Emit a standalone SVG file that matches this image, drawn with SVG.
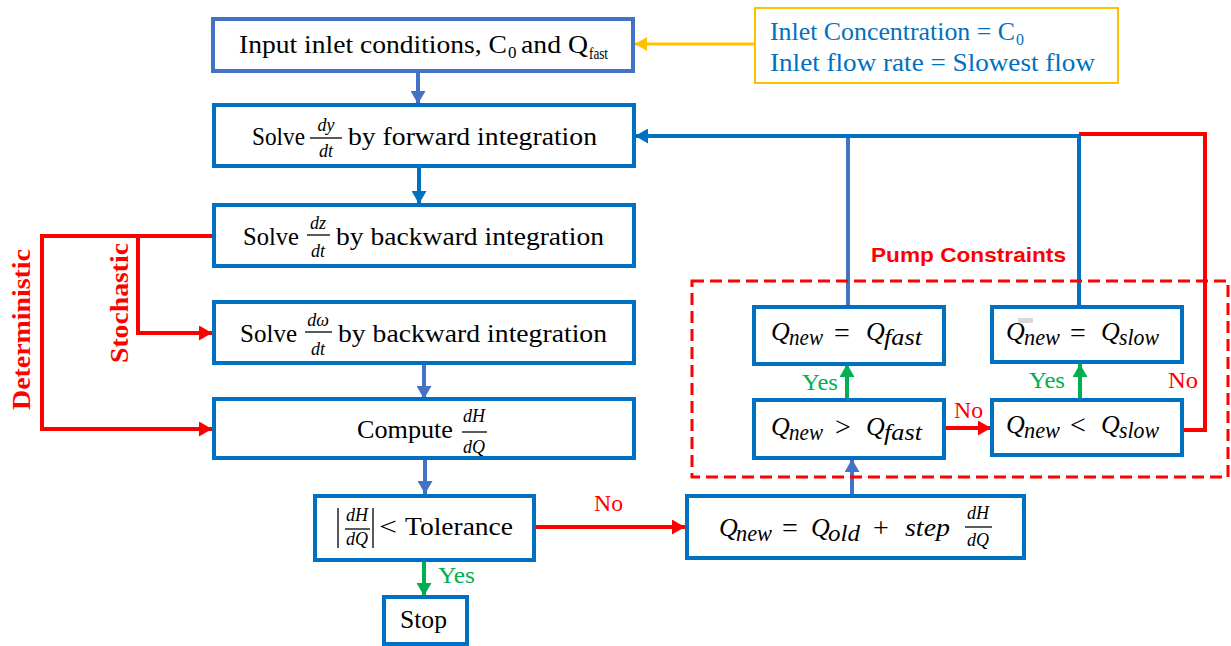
<svg xmlns="http://www.w3.org/2000/svg" width="1231" height="646" viewBox="0 0 1231 646">
<style>
.box{fill:#fff;stroke:#0070C0;stroke-width:4}
.box1{fill:#fff;stroke:#4472C4;stroke-width:4}
.t{font-family:"Liberation Serif",serif;font-size:26px;fill:#000}
.sub{font-family:"Liberation Serif",serif;font-size:17px;fill:#000}
.fr{font-family:"Liberation Serif",serif;font-size:18px;font-style:italic;fill:#000;text-anchor:middle}
.m{font-family:"Liberation Serif",serif;font-size:26px;font-style:italic;fill:#000}
.ms{font-family:"Liberation Serif",serif;font-size:23px;font-style:italic;fill:#000}
.op{font-family:"Liberation Serif",serif;font-size:28px;fill:#000;text-anchor:middle}
.info{font-family:"Liberation Serif",serif;font-size:25px;fill:#0070C0}
.infosub{font-family:"Liberation Serif",serif;font-size:16px;fill:#0070C0}
.lbl{font-family:"Liberation Serif",serif;font-weight:bold;font-size:26px;fill:#FF0000}
.pc{font-family:"Liberation Sans",sans-serif;font-weight:bold;font-size:21px;fill:#FF0000}
.yes{font-family:"Liberation Serif",serif;font-size:24px;fill:#00B050}
.no{font-family:"Liberation Serif",serif;font-size:24px;fill:#FF0000}
.fl{stroke:#000;stroke-width:1.3}
.cb{fill:none;stroke:#0070C0;stroke-width:4}
.cl{fill:none;stroke:#4472C4;stroke-width:4}
.cr{fill:none;stroke:#FF0000;stroke-width:4}
.cg{fill:none;stroke:#00B050;stroke-width:4}
.co{fill:none;stroke:#FFC000;stroke-width:3}
</style>
<defs>
<marker id="ab" viewBox="0 0 13 15" refX="13" refY="7.5" markerWidth="3.25" markerHeight="3.75" orient="auto"><path d="M0,0L13,7.5L0,15z" fill="#0070C0"/></marker>
<marker id="al" viewBox="0 0 13 15" refX="13" refY="7.5" markerWidth="3.25" markerHeight="3.75" orient="auto"><path d="M0,0L13,7.5L0,15z" fill="#4472C4"/></marker>
<marker id="ar" viewBox="0 0 13 15" refX="13" refY="7.5" markerWidth="3.25" markerHeight="3.75" orient="auto"><path d="M0,0L13,7.5L0,15z" fill="#FF0000"/></marker>
<marker id="ag" viewBox="0 0 13 15" refX="13" refY="7.5" markerWidth="3.25" markerHeight="3.75" orient="auto"><path d="M0,0L13,7.5L0,15z" fill="#00B050"/></marker>
<marker id="ao" viewBox="0 0 12 14" refX="12" refY="7" markerWidth="4" markerHeight="4.7" orient="auto"><path d="M0,0L12,7L0,14z" fill="#FFC000"/></marker>
</defs>

<g id="connectors">
<line class="co" x1="755" y1="44" x2="635" y2="44" marker-end="url(#ao)"/>
<line class="cl" x1="418" y1="72" x2="418" y2="104" marker-end="url(#al)"/>
<line class="cb" x1="419" y1="167" x2="419" y2="204" marker-end="url(#ab)"/>
<line class="cl" x1="424" y1="364" x2="424" y2="399" marker-end="url(#al)"/>
<line class="cl" x1="425" y1="458" x2="425" y2="494" marker-end="url(#al)"/>
<line class="cg" x1="424" y1="561" x2="424" y2="596" marker-end="url(#ag)"/>
<line class="cr" x1="534" y1="527" x2="685" y2="527" marker-end="url(#ar)"/>
<line class="cl" x1="852" y1="495" x2="852" y2="459" marker-end="url(#al)"/>
<line class="cg" x1="847" y1="399" x2="847" y2="364" marker-end="url(#ag)"/>
<line class="cg" x1="1080" y1="399" x2="1080" y2="364" marker-end="url(#ag)"/>
<line class="cr" x1="945" y1="428" x2="991" y2="428" marker-end="url(#ar)"/>
<polyline class="cl" points="848,307 848,137"/>
<polyline class="cb" points="1079,307 1079,136 635,136" marker-end="url(#ab)"/>
<polyline class="cr" points="1183,430 1205,430 1205,134 1079,134"/>
<polyline class="cr" points="214,236 42,236 42,429 212,429" marker-end="url(#ar)"/>
<polyline class="cr" points="138,236 138,333 212,333" marker-end="url(#ar)"/>
</g>

<g id="pump-constraints">
<rect x="692" y="281" width="536" height="196" fill="none" stroke="#FF0000" stroke-width="3" stroke-dasharray="12,6"/>
<text class="pc" x="871" y="262" textLength="195" lengthAdjust="spacingAndGlyphs">Pump Constraints</text>
</g>

<g id="labels">
<text class="lbl" transform="translate(30,410) rotate(-90)" textLength="161" lengthAdjust="spacingAndGlyphs">Deterministic</text>
<text class="lbl" transform="translate(128,363) rotate(-90)" textLength="120" lengthAdjust="spacingAndGlyphs">Stochastic</text>
<text class="no" x="594" y="511" textLength="29" lengthAdjust="spacingAndGlyphs">No</text>
<text class="yes" x="438" y="583" textLength="37" lengthAdjust="spacingAndGlyphs">Yes</text>
<text class="yes" x="802" y="390" textLength="36" lengthAdjust="spacingAndGlyphs">Yes</text>
<text class="yes" x="1029" y="388" textLength="36" lengthAdjust="spacingAndGlyphs">Yes</text>
<text class="no" x="954" y="418" textLength="29" lengthAdjust="spacingAndGlyphs">No</text>
<text class="no" x="1168" y="388" textLength="30" lengthAdjust="spacingAndGlyphs">No</text>
</g>

<g id="node-input">
<rect class="box1" x="213" y="19" width="420" height="52"/>
<text class="t" x="239" y="53" textLength="268" lengthAdjust="spacingAndGlyphs">Input inlet conditions, C</text>
<text class="sub" x="508" y="58">0</text>
<text class="t" x="521" y="53" textLength="67" lengthAdjust="spacingAndGlyphs">and Q</text>
<text class="sub" x="589" y="59" textLength="19" lengthAdjust="spacingAndGlyphs">fast</text>
</g>

<g id="node-info">
<rect x="755" y="8" width="363" height="75" fill="#fff" stroke="#FFC000" stroke-width="2"/>
<text class="info" x="770" y="40" textLength="245" lengthAdjust="spacingAndGlyphs">Inlet Concentration = C</text>
<text class="infosub" x="1016" y="45">0</text>
<text class="info" x="770" y="71" textLength="325" lengthAdjust="spacingAndGlyphs">Inlet flow rate = Slowest flow</text>
</g>

<g id="node-solve-y">
<rect class="box" x="214" y="105" width="420" height="61"/>
<text class="t" x="252" y="145" textLength="53" lengthAdjust="spacingAndGlyphs">Solve</text>
<text class="fr" x="326" y="131">dy</text>
<line class="fl" x1="310" y1="138" x2="342" y2="138"/>
<text class="fr" x="326" y="157">dt</text>
<text class="t" x="348" y="145" textLength="249" lengthAdjust="spacingAndGlyphs">by forward integration</text>
</g>

<g id="node-solve-z">
<rect class="box" x="214" y="205" width="420" height="61"/>
<text class="t" x="243" y="245" textLength="56" lengthAdjust="spacingAndGlyphs">Solve</text>
<text class="fr" x="318" y="229">dz</text>
<line class="fl" x1="307" y1="235" x2="330" y2="235"/>
<text class="fr" x="318" y="257">dt</text>
<text class="t" x="336" y="245" textLength="268" lengthAdjust="spacingAndGlyphs">by backward integration</text>
</g>

<g id="node-solve-w">
<rect class="box" x="214" y="302" width="420" height="61"/>
<text class="t" x="240" y="342" textLength="57" lengthAdjust="spacingAndGlyphs">Solve</text>
<text class="fr" x="318" y="326">dω</text>
<line class="fl" x1="305" y1="332" x2="332" y2="332"/>
<text class="fr" x="318" y="355">dt</text>
<text class="t" x="338" y="342" textLength="269" lengthAdjust="spacingAndGlyphs">by backward integration</text>
</g>

<g id="node-compute">
<rect class="box" x="214" y="399" width="420" height="59"/>
<text class="t" x="357" y="438" textLength="96" lengthAdjust="spacingAndGlyphs">Compute</text>
<text class="fr" x="474" y="422">dH</text>
<line class="fl" x1="462" y1="432" x2="487" y2="432"/>
<text class="fr" x="474" y="453">dQ</text>
</g>

<g id="node-tolerance">
<rect class="box" x="315" y="496" width="219" height="64"/>
<line class="fl" x1="338" y1="508" x2="338" y2="548" stroke-width="1.6"/>
<text class="fr" x="357" y="521">dH</text>
<line class="fl" x1="345" y1="529" x2="370" y2="529"/>
<text class="fr" x="357" y="545">dQ</text>
<line class="fl" x1="373" y1="508" x2="373" y2="548" stroke-width="1.6"/>
<text class="t" x="379" y="535" textLength="18" lengthAdjust="spacingAndGlyphs">&lt;</text>
<text class="t" x="405" y="535" textLength="108" lengthAdjust="spacingAndGlyphs">Tolerance</text>
</g>

<g id="node-stop">
<rect class="box" x="384" y="597" width="83" height="47"/>
<text class="t" x="400" y="628" textLength="47" lengthAdjust="spacingAndGlyphs">Stop</text>
</g>

<g id="node-update">
<rect class="box" x="687" y="496" width="337" height="62"/>
<text class="m" x="719" y="536">Q</text>
<text class="ms" x="736" y="541" textLength="36" lengthAdjust="spacingAndGlyphs">new</text>
<text class="op" x="790" y="537">=</text>
<text class="m" x="811" y="536">Q</text>
<text class="ms" x="828" y="541" textLength="32" lengthAdjust="spacingAndGlyphs">old</text>
<text class="op" x="881" y="537">+</text>
<text class="m" x="905" y="536" textLength="45" lengthAdjust="spacingAndGlyphs">step</text>
<text class="fr" x="978" y="519">dH</text>
<line class="fl" x1="965" y1="527" x2="992" y2="527"/>
<text class="fr" x="978" y="546">dQ</text>
</g>

<g id="node-gt-fast">
<rect class="box" x="754" y="400" width="190" height="58"/>
<text class="m" x="771" y="435">Q</text>
<text class="ms" x="789" y="440" textLength="34" lengthAdjust="spacingAndGlyphs">new</text>
<text class="op" x="843" y="436">&gt;</text>
<text class="m" x="866" y="435">Q</text>
<text class="ms" x="884" y="440" textLength="38" lengthAdjust="spacingAndGlyphs">fast</text>
</g>

<g id="node-lt-slow">
<rect class="box" x="992" y="400" width="190" height="55"/>
<text class="m" x="1006" y="433">Q</text>
<text class="ms" x="1024" y="438" textLength="36" lengthAdjust="spacingAndGlyphs">new</text>
<text class="op" x="1078" y="434">&lt;</text>
<text class="m" x="1101" y="433">Q</text>
<text class="ms" x="1119" y="438" textLength="40" lengthAdjust="spacingAndGlyphs">slow</text>
</g>

<g id="node-eq-fast">
<rect class="box" x="754" y="307" width="190" height="57"/>
<text class="m" x="771" y="340">Q</text>
<text class="ms" x="789" y="345" textLength="34" lengthAdjust="spacingAndGlyphs">new</text>
<text class="op" x="842" y="342">=</text>
<text class="m" x="866" y="340">Q</text>
<text class="ms" x="884" y="345" textLength="38" lengthAdjust="spacingAndGlyphs">fast</text>
</g>

<g id="node-eq-slow">
<rect class="box" x="992" y="307" width="190" height="55"/>
<rect x="1018" y="318" width="15" height="5" fill="#D9D9D9"/>
<text class="m" x="1006" y="340">Q</text>
<text class="ms" x="1024" y="345" textLength="36" lengthAdjust="spacingAndGlyphs">new</text>
<text class="op" x="1078" y="342">=</text>
<text class="m" x="1101" y="340">Q</text>
<text class="ms" x="1119" y="345" textLength="40" lengthAdjust="spacingAndGlyphs">slow</text>
</g>
</svg>
